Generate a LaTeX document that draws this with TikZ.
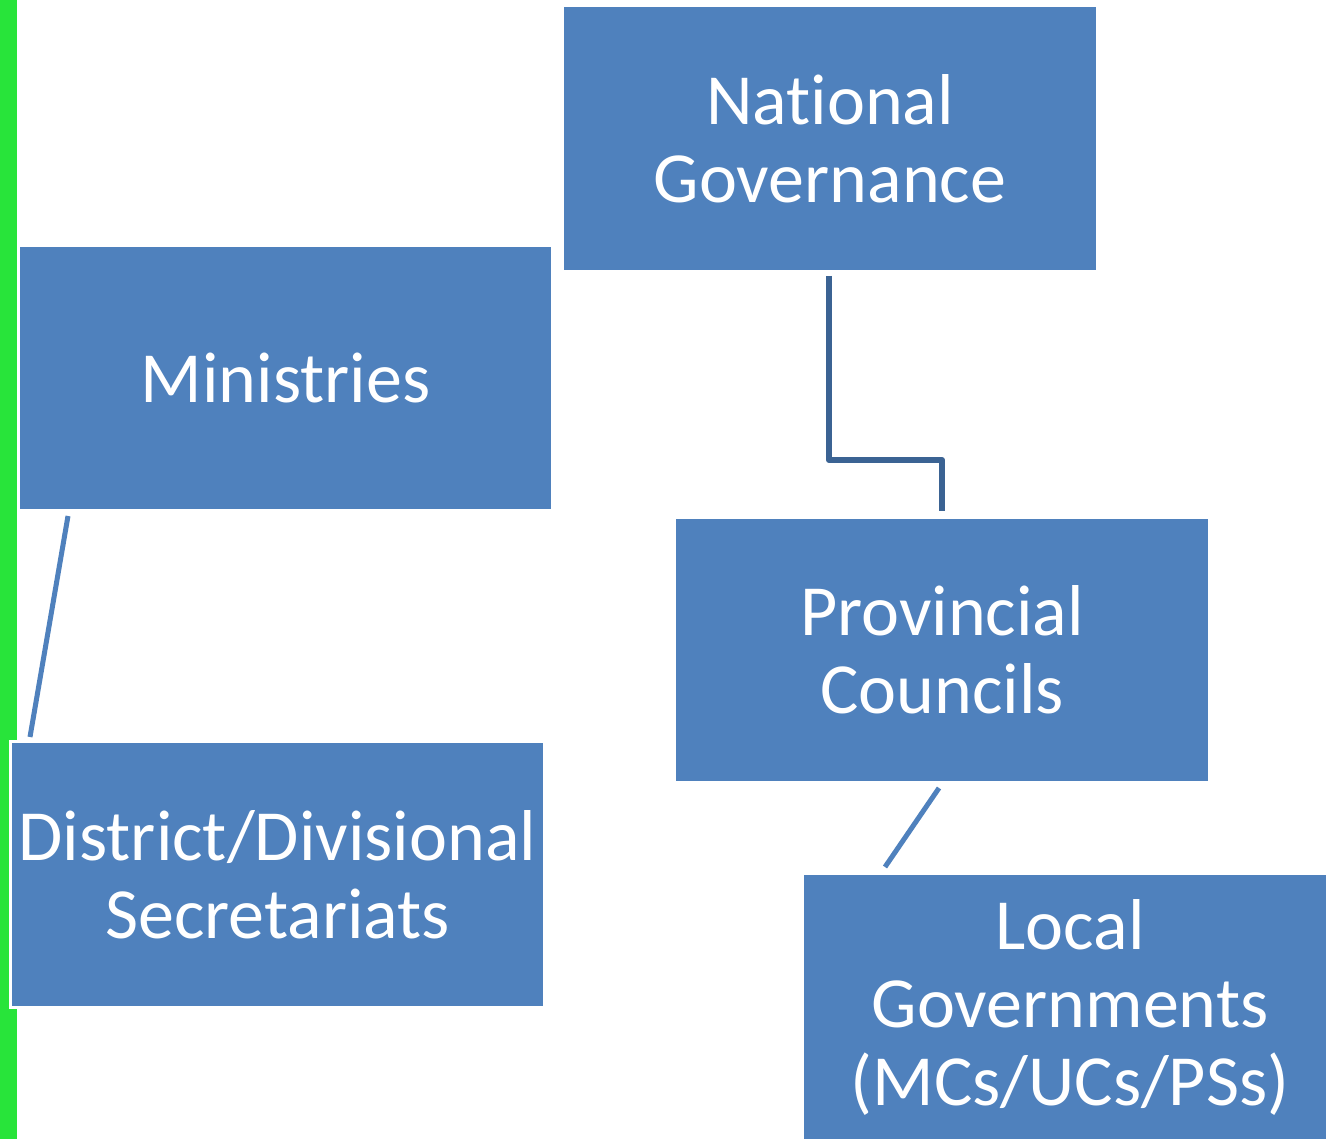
\documentclass[tikz,border=0pt]{standalone}
\usepackage{fontspec}
\setmainfont[Ligatures=NoCommon]{Carlito}
\definecolor{boxblue}{HTML}{4F81BD}
\definecolor{darkline}{HTML}{3B6393}
\definecolor{barGreen}{RGB}{40,228,58}
\begin{document}
\begin{tikzpicture}[x=1pt,y=-1pt,
  box/.style={draw=white, line width=3pt, fill=boxblue, text=white,
    inner sep=0pt, align=center, font=\fontsize{72}{78}\selectfont},
  conn/.style={draw=boxblue, line width=5pt},
  conndark/.style={draw=darkline, line width=6pt, line join=round}]
\useasboundingbox (0,0) rectangle (1326,1139);
\clip (0,0) rectangle (1326,1139);
\fill[white] (0,0) rectangle (1326,1139);
\fill[barGreen] (0,0) rectangle (17,1139);
\node[box, minimum width=535pt, minimum height=266pt] (nat) at (830,138.5) {National\\Governance};
\node[box, minimum width=534pt, minimum height=265pt] (min) at (285.5,378) {Ministries};
\node[box, minimum width=535pt, minimum height=265pt] (prov) at (942,650) {Provincial\\Councils};
\node[box, minimum width=534pt, minimum height=266pt] (dist) at (277.5,874.5) {District/Divisional\\Secretariats};
\node[box, minimum width=535pt, minimum height=267pt] (loc) at (1070,1007) {Local\\Governments\\(MCs/UCs/PSs)};
\coordinate (bend) at (829,460);
\draw[conndark] ([xshift=-1pt,yshift=-3pt]nat.south) -- (bend) -| ([yshift=5pt]prov.north);
\draw[conn] ([xshift=51pt,yshift=-4pt]min.south west) -- ([xshift=21pt,yshift=3pt]dist.north west);
\draw[conn] ([xshift=-3pt,yshift=-4pt]prov.south) -- ([xshift=84pt,yshift=5pt]loc.north west);
\end{tikzpicture}
\end{document}
